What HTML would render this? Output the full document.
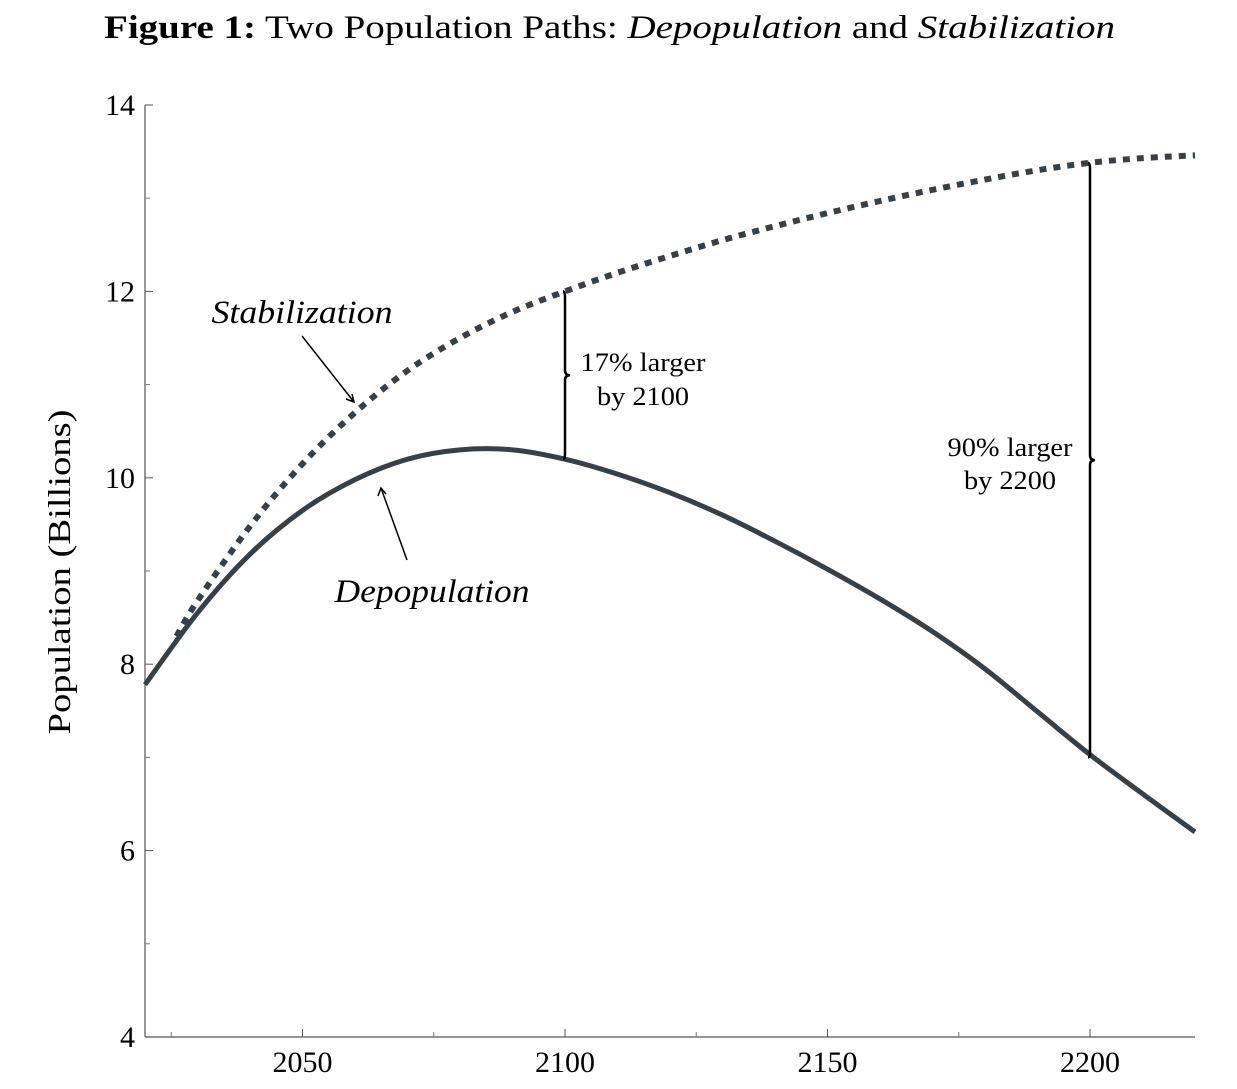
<!DOCTYPE html>
<html><head><meta charset="utf-8">
<style>
html,body{margin:0;padding:0;background:#fff;}
svg{display:block;font-family:"Liberation Serif",serif;}
</style></head>
<body>
<svg id="chart" width="1237" height="1089" viewBox="0 0 1237 1089">
<text x="104" y="38" font-size="33" fill="#000" textLength="1011" lengthAdjust="spacingAndGlyphs"><tspan font-weight="bold">Figure 1:</tspan> Two Population Paths: <tspan font-style="italic">Depopulation</tspan> and <tspan font-style="italic">Stabilization</tspan></text>
<g id="axes"></g>
<g id="series"></g>
<g id="annot"></g>
</svg>
<script>
const years = [2020,2030,2040,2050,2060,2070,2080,2090,2100,2110,2120,2130,2140,2150,2160,2170,2180,2190,2200,2210,2220];
const depopulation = [7.78,8.55,9.18,9.65,9.98,10.2,10.3,10.3,10.2,10.04,9.84,9.6,9.32,9.02,8.7,8.35,7.95,7.49,7.03,6.61,6.2];
const stabYears = [2026,2030,2040,2050,2060,2070,2080,2090,2100,2110,2120,2130,2140,2150,2160,2170,2180,2190,2200,2210,2220];
const stabilization = [8.3,8.68,9.48,10.15,10.7,11.15,11.5,11.78,12.0,12.2,12.38,12.55,12.7,12.84,12.97,13.09,13.2,13.3,13.38,13.43,13.46];
const xTicks = [2050,2100,2150,2200];
const xMinor = [2025,2075,2125,2175];
const yTicks = [4,6,8,10,12,14];
const yMinor = [5,7,9,11,13];

const NS='http://www.w3.org/2000/svg';
const X0=145,X1=1195,Y0=1037,Y1=105;
const xs=v=>X0+(v-2020)/200*(X1-X0);
const ys=v=>Y0-(v-4)/10*(Y0-Y1);
function el(tag,attrs,parent,text){const e=document.createElementNS(NS,tag);for(const k in attrs)e.setAttribute(k,attrs[k]);if(text!==undefined)e.textContent=text;parent.appendChild(e);return e;}
const axes=document.getElementById('axes'),series=document.getElementById('series'),annot=document.getElementById('annot');

let a=el('line',{x1:X0,y1:Y1,x2:X0,y2:Y0,stroke:'#555','stroke-width':1.2},axes);

a=el('line',{x1:X0,y1:Y0,x2:X1,y2:Y0,stroke:'#555','stroke-width':1.2},axes);

yTicks.forEach(v=>{
  const t=el('line',{x1:X0,y1:ys(v),x2:X0+8,y2:ys(v),stroke:'#555'},axes);
  
  const l=el('text',{x:X0-10,y:ys(v)+10,'font-size':30,'text-anchor':'end'},axes,String(v));
  
});
yMinor.forEach(v=>{
  const t=el('line',{x1:X0,y1:ys(v),x2:X0+5,y2:ys(v),stroke:'#777'},axes);
  
});
xTicks.forEach(v=>{
  const t=el('line',{x1:xs(v),y1:Y0,x2:xs(v),y2:Y0-8,stroke:'#555'},axes);
  
  const l=el('text',{x:xs(v),y:Y0+35,'font-size':30,'text-anchor':'middle'},axes,String(v));
  
});
xMinor.forEach(v=>{
  const t=el('line',{x1:xs(v),y1:Y0,x2:xs(v),y2:Y0-5,stroke:'#777'},axes);
  
});
const yt=el('text',{x:0,y:0,'font-size':32,'text-anchor':'middle',textLength:325,lengthAdjust:'spacingAndGlyphs',transform:'translate(70,572) rotate(-90)'},axes,'Population (Billions)');


function smooth(xv,yv){
  const p=xv.map((x,i)=>[xs(x),ys(yv[i])]);
  let d='M'+p[0][0]+','+p[0][1];
  for(let i=0;i<p.length-1;i++){
    const p0=p[i-1]||p[i],p1=p[i],p2=p[i+1],p3=p[i+2]||p2;
    d+=' C'+(p1[0]+(p2[0]-p0[0])/6)+','+(p1[1]+(p2[1]-p0[1])/6)+' '+(p2[0]-(p3[0]-p1[0])/6)+','+(p2[1]-(p3[1]-p1[1])/6)+' '+p2[0]+','+p2[1];
  }
  return d;
}
let s=el('path',{d:smooth(stabYears,stabilization),fill:'none',stroke:'#36404a','stroke-width':6,'stroke-dasharray':'7 7'},series);

s=el('path',{d:smooth(years,depopulation),fill:'none',stroke:'#36404a','stroke-width':5},series);


function brace(yr,top,bot,name){
  const x=xs(yr),yt=ys(top),yb=ys(bot),m=(yt+yb)/2;
  const b=el('path',{d:`M${x-2},${yt} Q${x},${yt} ${x},${yt+6} L${x},${m-5} Q${x},${m} ${x+5},${m} Q${x},${m} ${x},${m+5} L${x},${yb-6} Q${x},${yb} ${x-2},${yb}`,fill:'none',stroke:'#000','stroke-width':2.5},annot);
  
}
brace(2100,12.0,10.2,'brace-2100');
brace(2200,13.38,7.0,'brace-2200');
function txt(x,y,str,name,extra){const t=el('text',Object.assign({x:x,y:y,'font-size':26,'text-anchor':'middle',lengthAdjust:'spacingAndGlyphs'},extra||{}),annot,str);}
txt(643,371,'17% larger','label-17-percent',{textLength:125});
txt(643,405,'by 2100','label-by-2100',{textLength:92});
txt(1010,456,'90% larger','label-90-percent',{textLength:125});
txt(1010,489,'by 2200','label-by-2200',{textLength:92});
txt(302,323,'Stabilization','stabilization-label',{'font-size':33,'font-style':'italic',textLength:181});
txt(432,602,'Depopulation','depopulation-label',{'font-size':33,'font-style':'italic',textLength:195});
let ar=el('path',{d:'M302,336 L354,402 M346,399 L354,402 L352,394',fill:'none',stroke:'#000','stroke-width':1.5},annot);

ar=el('path',{d:'M407,560 L381,488 M378,496 L381,488 L386,494',fill:'none',stroke:'#000','stroke-width':1.5},annot);

</script>
</body></html>
